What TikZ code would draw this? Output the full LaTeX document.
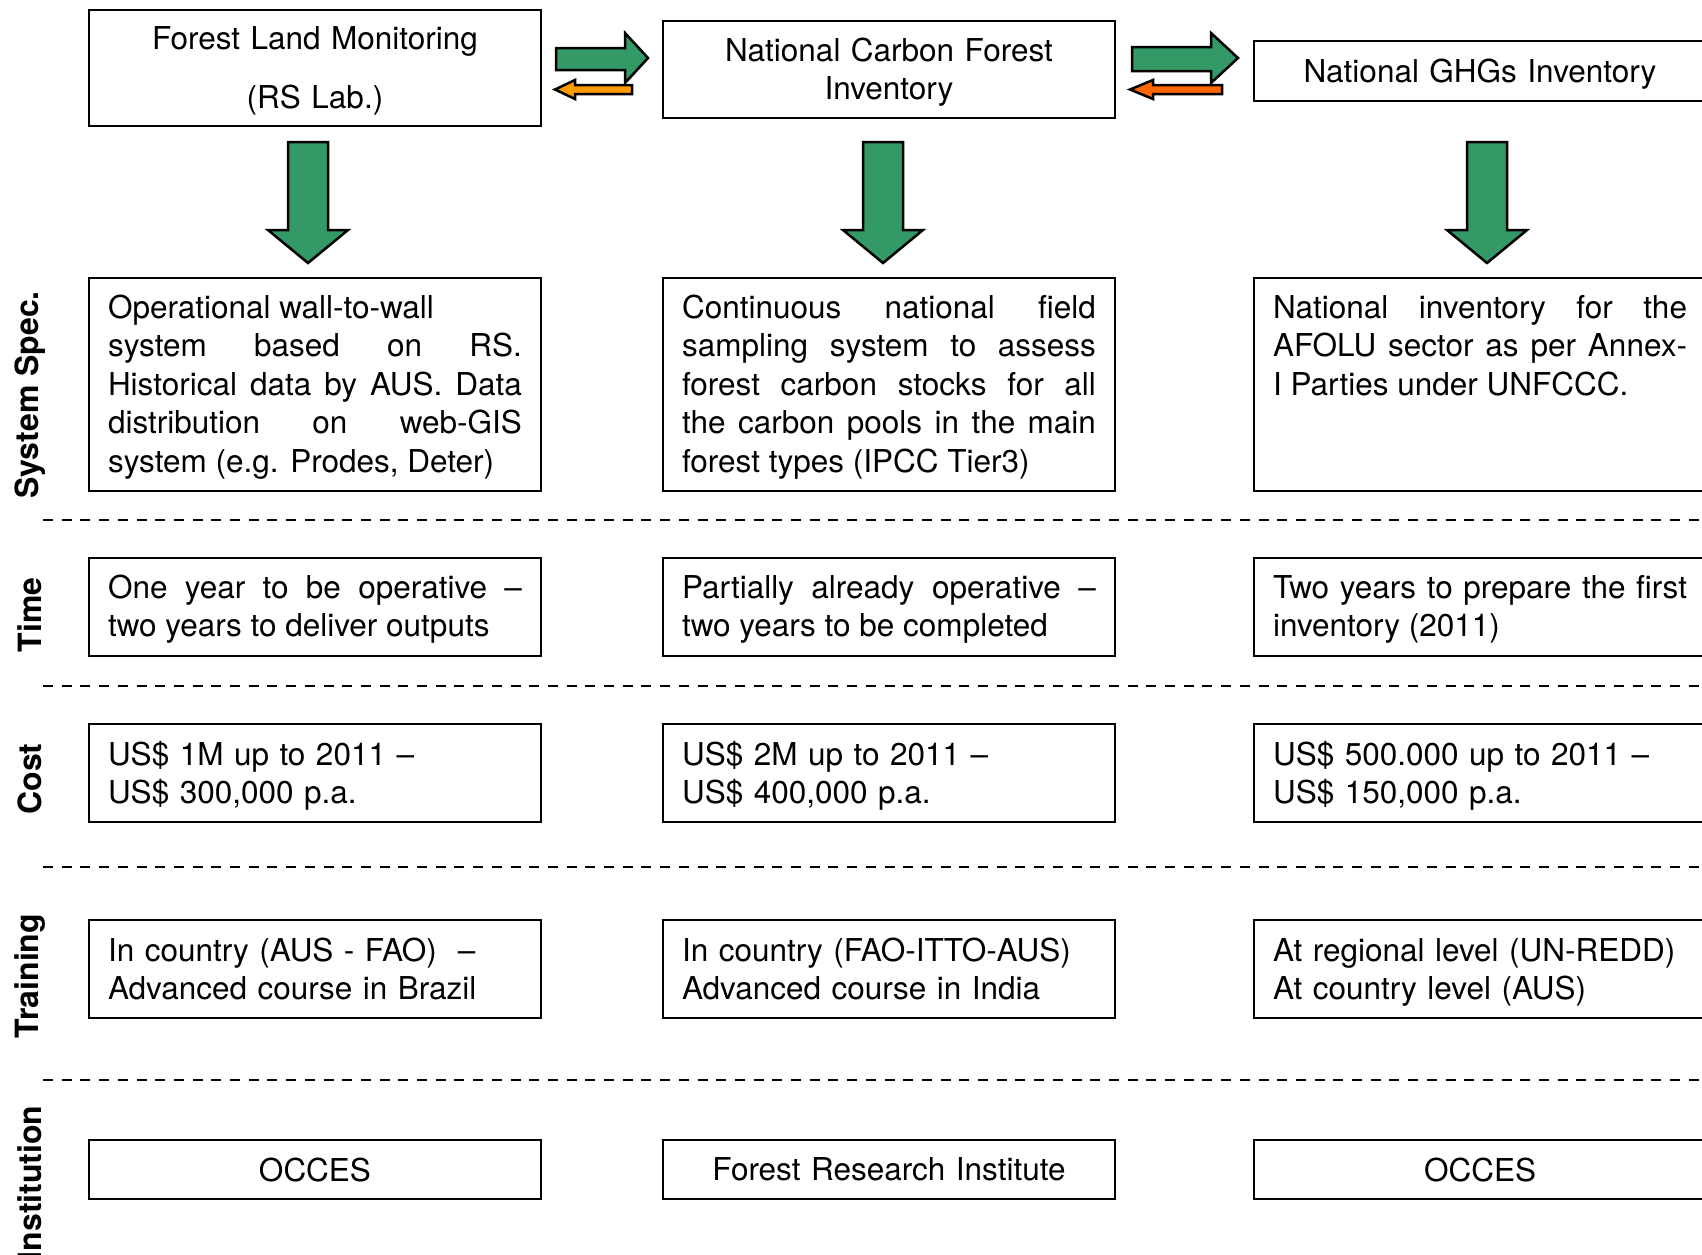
\documentclass[tikz,border=0pt]{standalone}
\usepackage{fontspec}
\setmainfont{TeX Gyre Heros}
\usepackage{tikz}

\definecolor{arrowgreen}{HTML}{339966}
\definecolor{arroworange}{HTML}{FF9900}
\definecolor{arrowred}{HTML}{FF6600}

\newcommand{\bodyfont}{\fontsize{31.5}{38.5}\selectfont}

\tikzset{
  cell/.style={draw, line width=2.5pt, text width=414pt, inner xsep=19pt, inner ysep=8pt,
    text height=32pt, text depth=50pt, align=justify, font=\bodyfont},
  headcell/.style={draw, line width=2.5pt, text width=414pt, inner xsep=19pt, inner ysep=8pt,
    align=center, font=\bodyfont},
  speccell/.style={cell, text height=30pt, text depth=163pt, inner ysep=10pt},
  listcell/.style={cell, align=left, text height=33pt, text depth=49pt},
  rowlabel/.style={rotate=90, font=\bfseries\fontsize{32}{36}\selectfont},
  sep/.style={line width=2pt, dash pattern=on 10pt off 8.7pt},
  blockarrow/.style={draw, line width=2.5pt, line join=miter, fill=arrowgreen},
}

\begin{document}
\begin{tikzpicture}[x=1pt,y=-1pt]
		\useasboundingbox (0,0) rectangle (1702,1254);
		\fill[white] (0,0) rectangle (1702,1254);
		
		% top row
		\node[headcell, minimum height=116pt, text height=29pt] (top1) at (315,68) {Forest Land Monitoring\\[20pt](RS Lab.)};
		\node[headcell, minimum height=97pt, text height=29pt] (top2) at (889,69.5) {National Carbon Forest\\Inventory};
		\node[headcell, minimum height=60pt, text height=29pt] (top3) at (1480,71) {National GHGs Inventory};
		
		% arrows between the top boxes
		\draw[blockarrow] (556,48) -- (625,48) -- (625,33) -- (648,58) -- (625,83) -- (625,70) -- (556,70) -- cycle;
		\draw[blockarrow, fill=arroworange] (632,85) -- (575,85) -- (575,80) -- (555,89.5) -- (575,99) -- (575,94) -- (632,94) -- cycle;
		\draw[blockarrow] (1132,47) -- (1211,47) -- (1211,33) -- (1238,58) -- (1211,83) -- (1211,71) -- (1132,71) -- cycle;
		\draw[blockarrow, fill=arrowred] (1222,85) -- (1153,85) -- (1153,80) -- (1130,89.5) -- (1153,99) -- (1153,94) -- (1222,94) -- cycle;
		
		% down arrows
		\foreach \c in {308,883,1487}
			\draw[blockarrow] (\c-20,142) -- (\c+20,142) -- (\c+20,230) -- (\c+40,230) -- (\c,263) -- (\c-40,230) -- (\c-20,230) -- cycle;
		
		% system spec.
		\node[speccell] (spec1) at (315,384.5) {Operational wall-to-wall\\ system based on RS.\linebreak Historical data by AUS. Data\linebreak distribution on web-GIS\linebreak system (e.g. Prodes, Deter)};
		\node[speccell] (spec2) at (889,384.5) {Continuous national field\linebreak sampling system to assess\linebreak forest carbon stocks for all\linebreak the carbon pools in the main\linebreak forest types (IPCC Tier3)};
		\node[speccell] (spec3) at (1480,384.5) {National inventory for the\linebreak AFOLU sector as per Annex-\linebreak I Parties under UNFCCC.};
		
		\draw[sep] (43,520) -- (1702,520);
		
		% time
		\node[cell] (time1) at (315,607) {One year to be operative --\linebreak two years to deliver outputs};
		\node[cell] (time2) at (889,607) {Partially already operative --\linebreak two years to be completed};
		\node[cell] (time3) at (1480,607) {Two years to prepare the first\linebreak inventory (2011)};
		
		\draw[sep] (43,686) -- (1702,686);
		
		% cost
		\node[listcell] (cost1) at (315,773) {US\$ 1M up to 2011 --\\US\$ 300,000 p.a.};
		\node[listcell] (cost2) at (889,773) {US\$ 2M up to 2011 --\\US\$ 400,000 p.a.};
		\node[listcell] (cost3) at (1480,773) {US\$ 500.000 up to 2011 --\\US\$ 150,000 p.a.};
		
		\draw[sep] (43,867) -- (1702,867);
		
		% training
		\node[listcell] (train1) at (315,969) {In country (AUS - FAO)~~--\\Advanced course in Brazil};
		\node[listcell] (train2) at (889,969) {In country (FAO-ITTO-AUS)\\Advanced course in India};
		\node[listcell] (train3) at (1480,969) {At regional level (UN-REDD)\\At country level (AUS)};
		
		\draw[sep] (43,1080) -- (1702,1080);
		
		% institution
		\node[headcell, minimum height=59pt] (inst1) at (315,1169.5) {OCCES};
		\node[headcell, minimum height=59pt] (inst2) at (889,1169.5) {Forest Research Institute};
		\node[headcell, minimum height=59pt] (inst3) at (1480,1169.5) {OCCES};
		
		% row labels
		\node[rowlabel] (lspec) at (30,395) {System Spec.};
		\node[rowlabel] (ltime) at (30,615) {Time};
		\node[rowlabel] (lcost) at (30,779) {Cost};
		\node[rowlabel] (ltrain) at (30,976) {Training};
		\node[rowlabel, anchor=east] (linst) at (30,1102) {Institution};
\end{tikzpicture}
\end{document}
